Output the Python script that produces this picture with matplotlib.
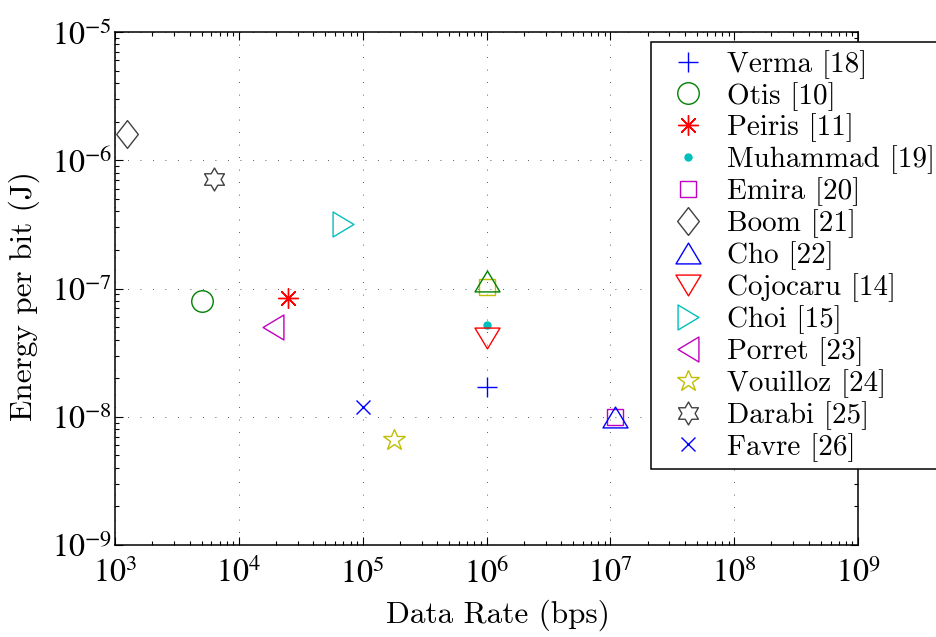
import numpy as np
import matplotlib
matplotlib.use("Agg")
import matplotlib.pyplot as plt
from matplotlib.path import Path
from matplotlib.ticker import LogLocator, FixedLocator, NullFormatter

plt.rcParams['font.family'] = ['cmr10', 'DejaVu Serif']
plt.rcParams['mathtext.fontset'] = 'stix'
plt.rcParams['axes.unicode_minus'] = False
plt.rcParams['axes.formatter.use_mathtext'] = True

# ---- data ----
names = ["Verma [18]", "Otis [10]", "Peiris [11]", "Muhammad [19]", "Emira [20]",
         "Boom [21]", "Cho [22]", "Cojocaru [14]", "Choi [15]", "Porret [23]",
         "Vouilloz [24]", "Darabi [25]", "Favre [26]"]
rates = [1.0e6, 5.0e3, 2.5e4, 1.0e6, 1.1e7, 1.25e3, 1.1e7, 1.0e6, 7.0e4, 1.9e4,
         1.8e5, 6.3e3, 1.0e5]
energies = [1.7e-8, 8.0e-8, 8.4e-8, 5.2e-8, 1.0e-8, 1.6e-6, 1.0e-8, 4.1e-8, 3.2e-7,
            5.0e-8, 6.6e-9, 7.1e-7, 1.2e-8]
# extra unlabelled points
extra_rates = [1.0e6, 1.0e6]
extra_energies = [1.15e-7, 1.03e-7]

x_ticks = [1e3, 1e4, 1e5, 1e6, 1e7, 1e8, 1e9]
y_ticks = [1e-9, 1e-8, 1e-7, 1e-6, 1e-5]
x_labels = [r"$10^{%d}$" % e for e in range(3, 10)]
y_labels = [r"$10^{%d}$" % e for e in range(-9, -4)]

# ---- styles ----
B = (0, 0, 1); G = (0, 0.5, 0); R = (1, 0, 0); C = (0, 0.75, 0.75)
M = (0.75, 0, 0.75); Y = (0.75, 0.75, 0); K = (0.25, 0.25, 0.25)

def tri(direction):
    w, h = 0.6, 0.5
    if direction == 'up':
        v = [(0, h), (-w, -h), (w, -h)]
    elif direction == 'down':
        v = [(0, -h), (-w, h), (w, h)]
    elif direction == 'right':
        v = [(h, 0), (-h, w), (-h, -w)]
    else:
        v = [(-h, 0), (h, w), (h, -w)]
    v = v + [v[0]]
    return Path(v, [Path.MOVETO, Path.LINETO, Path.LINETO, Path.CLOSEPOLY])

diamond = Path([(0, 0.5), (0.39, 0), (0, -0.5), (-0.39, 0), (0, 0.5)],
               [Path.MOVETO, Path.LINETO, Path.LINETO, Path.LINETO, Path.CLOSEPOLY])

hv = []
for i in range(12):
    ang = np.pi / 2 + i * np.pi / 6
    r = 1.0 if i % 2 == 0 else 1 / np.sqrt(3)
    hv.append((r * np.cos(ang), r * np.sin(ang)))
hv.append(hv[0])
hexagram = Path(hv, [Path.MOVETO] + [Path.LINETO] * 11 + [Path.CLOSEPOLY])

styles = [
    dict(marker='+', color=B, ms=15),
    dict(marker='o', color=G, ms=15.5),
    dict(marker=(8, 2, 0), color=R, ms=14.5),
    dict(marker='.', color=C, ms=10, filled=True),
    dict(marker='s', color=M, ms=12),
    dict(marker=diamond, color=K, ms=20),
    dict(marker=tri('up'), color=B, ms=18),
    dict(marker=tri('down'), color=R, ms=18),
    dict(marker=tri('right'), color=C, ms=18),
    dict(marker=tri('left'), color=M, ms=18),
    dict(marker='*', color=Y, ms=16.5),
    dict(marker=hexagram, color=K, ms=16.5),
    dict(marker='x', color=B, ms=10.6),
]

fig = plt.figure(figsize=(9.37, 6.37), dpi=100)
ax = fig.add_axes([115 / 937, 1 - 545 / 637, (858 - 115) / 937, (545 - 32) / 637])
ax.set_xscale('log')
ax.set_yscale('log')

handles = []
for n, xr, ye, st in zip(names, rates, energies, styles):
    filled = st.get('filled', False)
    h, = ax.plot([xr], [ye], linestyle='none', marker=st['marker'], markersize=st['ms'],
                 markeredgecolor=st['color'],
                 markerfacecolor=st['color'] if filled else 'none',
                 markeredgewidth=1.0, label=n, zorder=3)
    handles.append(h)

ax.plot([extra_rates[1]], [extra_energies[1]], linestyle='none', marker='s', markersize=12,
        markeredgecolor=Y, markerfacecolor='none', markeredgewidth=1.0, zorder=3)
ax.plot([extra_rates[0]], [extra_energies[0]], linestyle='none', marker=tri('up'), markersize=18,
        markeredgecolor=G, markerfacecolor='none', markeredgewidth=1.0, zorder=3)

ax.set_xlim(1e3, 1e9)
ax.set_ylim(1e-9, 1e-5)
ax.xaxis.set_major_locator(FixedLocator(x_ticks))
ax.yaxis.set_major_locator(FixedLocator(y_ticks))
ax.set_xticklabels(x_labels)
ax.set_yticklabels(y_labels)
ax.xaxis.set_minor_locator(LogLocator(base=10, subs=np.arange(2, 10)))
ax.yaxis.set_minor_locator(LogLocator(base=10, subs=np.arange(2, 10)))
ax.xaxis.set_minor_formatter(NullFormatter())
ax.yaxis.set_minor_formatter(NullFormatter())

ax.tick_params(which='both', direction='in', top=True, right=True, labelsize=23, width=0.8)
ax.tick_params(which='major', length=5.5)
ax.tick_params(which='minor', length=3)
ax.tick_params(axis='x', which='major', pad=9)
ax.tick_params(axis='y', which='major', pad=2)
for s in ax.spines.values():
    s.set_linewidth(1.1)

ax.grid(True, which='major', color='0.15', linestyle=(0, (1, 14)), linewidth=0.6)
ax.set_axisbelow(True)

ax.set_xlabel("Data Rate (bps)", fontsize=22.5)
ax.set_ylabel("Energy per bit (J)", fontsize=22.5)
ax.xaxis.set_label_coords(0.5155, -0.107)
ax.yaxis.set_label_coords(-0.101, 0.485)

leg = fig.legend(handles=handles, loc='upper left', bbox_to_anchor=(651 / 937, 1 - 42 / 637),
                 bbox_transform=fig.transFigure, fontsize=21, numpoints=1,
                 borderaxespad=0, borderpad=0.27, handlelength=2.0, handletextpad=0.34,
                 labelspacing=0.106, fancybox=False, framealpha=1, edgecolor='k')
leg.get_frame().set_linewidth(1.1)

fig.savefig("out.png", dpi=100)
